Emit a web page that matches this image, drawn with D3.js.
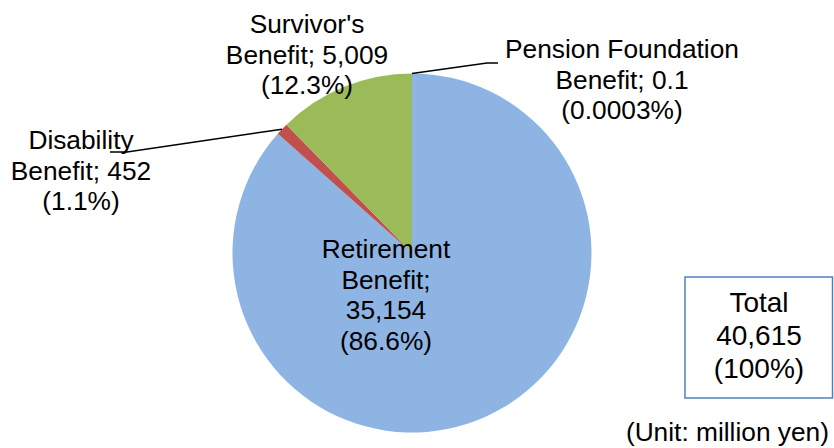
<!DOCTYPE html>
<html>
<head>
<meta charset="utf-8">
<script src="https://cdn.jsdelivr.net/npm/d3@7"></script>
<style>
  html, body { margin: 0; padding: 0; background: #fff; }
  svg { display: block; }
  text { font-family: "Liberation Sans", Arial, sans-serif; fill: #000; }
</style>
</head>
<body>
<svg id="chart" width="834" height="448"></svg>
<script>
// ---- data ----
const categories = ["Retirement Benefit", "Disability Benefit", "Survivor's Benefit", "Pension Foundation Benefit"];
const values = [35154, 452, 5009, 0.1];
const valueLabels = ["35,154", "452", "5,009", "0.1"];
const percentLabels = ["(86.6%)", "(1.1%)", "(12.3%)", "(0.0003%)"];
const colors = ["#8EB4E3", "#C0504D", "#9BBB59", "#4F81BD"];
const totalLabel = ["Total", "40,615", "(100%)"];
const unitLabel = "(Unit: million yen)";

// ---- layout ----
const W = 834, H = 448;
const cx = 412, cy = 253, R = 179.5;
const fontSize = 26.3, lineH = 30.5;

const labelLines = [
  ["Retirement", "Benefit;", "35,154", "(86.6%)"],
  ["Disability", "Benefit; 452", "(1.1%)"],
  ["Survivor's", "Benefit; 5,009", "(12.3%)"],
  ["Pension Foundation", "Benefit; 0.1", "(0.0003%)"]
];
// x center, first baseline
const labelPos = [
  [386, 258],
  [81, 149],
  [307, 33],
  [622, 58]
];

const svg = d3.select("#chart");
const g = svg.append("g").attr("transform", `translate(${cx},${cy})`);

const pie = d3.pie().sort(null).value(d => d)(values);
const arc = d3.arc().innerRadius(0).outerRadius(R);

g.selectAll("path.slice")
  .data(pie)
  .join("path")
  .attr("class", "slice")
  .attr("d", arc)
  .attr("fill", (d, i) => colors[i]);

// leader lines
function outerPoint(d) {
  const a = (d.startAngle + d.endAngle) / 2;
  return [cx + R * Math.sin(a), cy - R * Math.cos(a)];
}
const leaders = [
  { i: 1, pts: [[127, 152], [110, 152]] },
  { i: 3, pts: [[487, 63], [498, 63]] }
];
leaders.forEach(l => {
  const p0 = outerPoint(pie[l.i]);
  const pts = [p0, ...l.pts];
  svg.append("path")
    .attr("d", d3.line()(pts))
    .attr("fill", "none")
    .attr("stroke", "#000")
    .attr("stroke-width", 1.5);
});

// labels
labelLines.forEach((lines, i) => {
  const t = svg.append("text")
    .attr("text-anchor", "middle")
    .attr("font-size", fontSize);
  lines.forEach((s, k) => {
    t.append("tspan")
      .attr("x", labelPos[i][0])
      .attr("y", labelPos[i][1] + k * lineH)
      .text(s);
  });
});

// total box
svg.append("rect")
  .attr("x", 685).attr("y", 277)
  .attr("width", 147.5).attr("height", 121)
  .attr("fill", "#fff")
  .attr("stroke", "#4F81BD")
  .attr("stroke-width", 1.5);
const tt = svg.append("text").attr("text-anchor", "middle").attr("font-size", 28);
totalLabel.forEach((s, k) => {
  tt.append("tspan").attr("x", 759).attr("y", 312 + k * 33).text(s);
});

svg.append("text")
  .attr("x", 829).attr("y", 441)
  .attr("text-anchor", "end")
  .attr("font-size", fontSize)
  .text(unitLabel);
</script>
</body>
</html>
